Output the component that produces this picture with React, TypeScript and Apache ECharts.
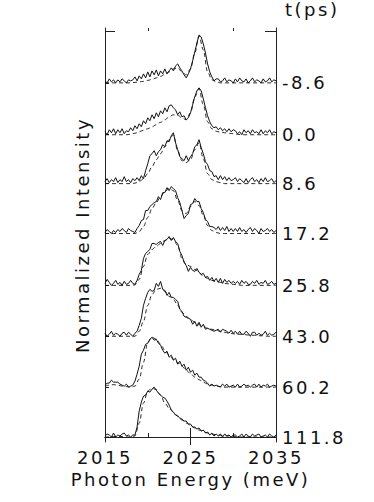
import React, { useEffect, useRef } from 'react';
import * as echarts from 'echarts';

// Photon energy sampling (meV)
const ENERGY_FINE = [
  2015, 2015.25, 2015.5, 2015.75, 2016, 2016.25, 2016.5, 2016.75,
  2017, 2017.25, 2017.5, 2017.75, 2018, 2018.25, 2018.5, 2018.75,
  2019, 2019.25, 2019.5, 2019.75, 2020, 2020.25, 2020.5, 2020.75,
  2021, 2021.25, 2021.5, 2021.75, 2022, 2022.25, 2022.5, 2022.75,
  2023, 2023.25, 2023.5, 2023.75, 2024, 2024.25, 2024.5, 2024.75,
  2025, 2025.25, 2025.5, 2025.75, 2026, 2026.25, 2026.5, 2026.75,
  2027, 2027.25, 2027.5, 2027.75, 2028, 2028.25, 2028.5, 2028.75,
  2029, 2029.25, 2029.5, 2029.75, 2030, 2030.25, 2030.5, 2030.75,
  2031, 2031.25, 2031.5, 2031.75, 2032, 2032.25, 2032.5, 2032.75,
  2033, 2033.25, 2033.5, 2033.75, 2034, 2034.25, 2034.5, 2034.75,
  2035,
];
const ENERGY_COARSE = [
  2015, 2015.5, 2016, 2016.5, 2017, 2017.5, 2018, 2018.5, 2019, 2019.5,
  2020, 2020.5, 2021, 2021.5, 2022, 2022.5, 2023, 2023.5, 2024, 2024.5,
  2025, 2025.5, 2026, 2026.5, 2027, 2027.5, 2028, 2028.5, 2029, 2029.5,
  2030, 2030.5, 2031, 2031.5, 2032, 2032.5, 2033, 2033.5, 2034, 2034.5,
  2035,
];

// Delay times (ps), top to bottom
const DELAYS = ['-8.6', '0.0', '8.6', '17.2', '25.8', '43.0', '60.2', '111.8'];
// Vertical offset of each spectrum (normalized intensity units)
const OFFSETS = [355, 303, 254, 204, 152, 101, 50, 0];
const X_LABELS = [2015, 2025, 2035];

// Measured spectra (solid)
const M_N86 = [
  2, 0, 4, 1, 3, 0, 3, 1, 4, 2, 0, 3, 2,
  3, 6, 2, 7, 4, 9, 5, 11, 6, 12, 8, 13, 7, 12, 9, 14, 9, 12, 15, 12, 17, 19, 15, 12, 8, 5, 9, 14, 22, 31, 40, 48, 46, 39, 30, 19, 11, 6, 2, 4,
  4, 1, 2, 5, 1, 3, 2, 0, 4, 1, 5, 2, 1, 4, 0, 2, 5, 1, 3, 2, 0, 4, 1, 2, 5, 1, 3, 2,
];
const M_00 = [
  3, 0, 5, 2, 6, 1, 5, 2, 6, 1, 4,
  3, 7, 4, 9, 6, 11, 8, 14, 11, 17, 14, 20, 16, 22, 18, 24, 21, 27, 23, 29, 30, 27, 25, 20, 23, 18, 19, 15, 17, 22, 30, 38, 44, 47, 44, 36, 27, 19, 13, 9, 7, 8, 5, 7, 4, 6, 3, 6, 3, 5,
  4, 1, 3, 0, 5, 2, 4, 1, 5, 2, 3, 1, 5, 1, 4, 2, 5, 1, 3, 2,
];
const M_86 = [
  2, 5, 1, 4, 2, 6, 1, 4, 2, 7, 2, 4, 1, 5,
  3, 6, 3, 8, 5, 13, 20, 28, 30, 33, 28, 32, 34, 39, 37, 43, 42, 48, 51, 41, 34, 27, 25, 23, 28, 23, 27, 30, 37, 39, 44, 36, 30, 22, 19, 13, 12, 7, 8, 4, 8, 4, 7, 3, 6, 3, 4,
  6, 2, 5, 3, 1, 5, 1, 4, 6, 2, 4, 1, 5, 2, 6, 2, 3, 5, 1, 3,
];
const M_172 = [
  1, 4, 2, 0, 3, 1, 4, 2, 5, 3, 1, 5, 3, 2,
  1, 5, 8, 13, 14, 23, 23, 27, 29, 31, 32, 37, 34, 41, 41, 46, 43, 47, 45, 43, 36, 31, 23, 15, 18, 20, 29, 30, 35, 32, 32, 25, 21, 14, 12, 7, 7, 6, 4, 7, 3, 6, 3, 7, 2, 5, 2,
  5, 2, 6, 2, 4, 1, 4, 6, 2, 5, 3, 0, 5, 2, 3, 5, 2, 4, 1, 3,
];
const M_258 = [
  2, 6, 3, 0, 2, 5, 1, 3, 0, 4, 1, 2, 5, 2, 1,
  5, 11, 15, 27, 32, 34, 36, 42, 42, 41, 43, 44, 40, 45, 46, 49, 45, 48, 44, 42, 34, 30, 23, 20, 14, 18, 15, 14, 17, 13, 11, 12, 8, 9, 5, 8, 4, 7, 3, 7, 2, 6, 3, 5, 2, 4,
  2, 4, 1, 5, 2, 4, 1, 1, 4, 2, 5, 1, 3, 2, 5, 1, 2, 4, 1, 2,
];
const M_430 = [
  3, 0, 2, 5, 1, 3, 2, 0, 3, 4, 1, 4, 2, 0, 3,
  5, 11, 18, 31, 38, 44, 47, 45, 46, 53, 50, 55, 47, 46, 41, 44, 39, 39, 37, 35, 27, 25, 20, 19, 18, 17, 12, 15, 10, 14, 9, 12, 7, 8, 7, 6, 5, 6, 7, 4, 7, 6, 5, 3, 6, 3,
  5, 2, 5, 2, 2, 5, 3, 0, 4, 4, 1, 3, 1, 2, 5, 1, 3, 1, 2, 4,
];
const M_602 = [
  2, 4, 4, 7, 5, 5, 5, 3, 2, 1, 3, 0, 1, 2,
  6, 13, 21, 33, 37, 43, 44, 48, 50, 47, 48, 44, 42, 37,
  34, 36, 30, 32, 27, 29, 23, 26, 21, 23, 17, 20, 15, 17, 12, 14, 10, 10, 7, 6,
  4, 1, 3, 1, 2,
  1, 0, 3, 1, 3, 0, 1, 2, 0, 3, 0, 1, 3, 1, 2, 0, 2, 3, 0, 3, 0, 2, 1, 3, 0, 1, 2, 1,
];
const M_1118 = [
  1, 3, 2, 0, 4, 0, 2, 1, 3, 4, 1, 2, 0, 2,
  2, 10, 26, 35, 41, 42, 46, 45, 48, 50, 47, 44, 42, 40,
  39, 36, 32, 27, 25, 22, 21, 19, 18, 16, 16, 13, 13, 10, 10, 8, 9, 6, 7, 4,
  5, 2, 4, 1, 3,
  1, 3, 0, 3, 1, 2, 0, 2, 2, 0, 1, 3, 0, 3, 1, 0, 3, 1, 2, 3, 0, 1, 2, 0, 3, 1, 0, 2,
];

// Calculated fits (dashed)
const F_N86 = [0, 0, 0, 0, 0, 0, 0, 0.5, 1, 1.5, 2.5, 3.5, 5, 6.5, 8.5, 11, 14, 15, 11, 8, 14, 30, 47, 33, 11, 3, 1, 0, 0, 0, 0, 0, 0, 0, 0, 0, 0, 0, 0, 0, 0];
const F_00 = [0, 0, 0, 0, 0, 0, 0.5, 1.5, 3, 4.5, 6, 8, 10, 12.5, 15, 18, 20, 19.5, 17, 15, 22, 38, 46, 30, 13, 6, 3.5, 2.5, 2, 1.5, 1, 0.5, 0, 0, 0, 0, 0, 0, 0, 0, 0];
const F_86 = [0, 0, 0, 0, 0, 0, 0, 0.5, 2, 5, 10, 17, 24, 30, 37, 44, 49, 33, 23, 21, 24, 34, 41, 25, 10, 4, 2, 1, 0, 0, 0, 0, 0, 0, 0, 0, 0, 0, 0, 0, 0];
const F_172 = [0, 0, 0, 0, 0, 0, 0, 0, 2, 7, 16, 25, 31, 37, 42, 45, 43, 33, 23, 20, 27, 32, 28, 18, 8, 3, 1, 0, 0, 0, 0, 0, 0, 0, 0, 0, 0, 0, 0, 0, 0];
const F_258 = [0, 0, 0, 0, 0, 0, 0, 0.5, 6, 19, 31, 36, 39, 42, 45, 47, 46, 40, 27, 21, 19, 16, 13, 9, 7, 5, 4, 3, 2, 1.5, 1, 0.5, 0, 0, 0, 0, 0, 0, 0, 0, 0];
const F_430 = [0, 0, 0, 0, 0, 0, 0, 0, 5, 15, 31, 42, 47, 48, 45, 40, 37, 31, 24, 20, 17, 14, 11.5, 10, 8, 7, 6, 5, 4, 3, 2.5, 2, 2, 1.5, 1, 1, 0.5, 0.5, 0, 0, 0];
const F_602 = [1, 2, 2.5, 2, 1, 0.5, 0, 1, 8, 25, 45, 50, 48, 43, 37, 32, 28, 24.5, 21, 17, 13.5, 10, 7.5, 5, 3, 2, 1, 0.5, 0, 0, 0, 0, 0, 0, 0, 0, 0, 0, 0, 0, 0];
const F_1118 = [0, 0, 0.5, 0.5, 0.5, 0, 0, 1, 14, 34, 46, 49, 47.5, 42, 34, 29, 25, 21, 17, 14, 11.5, 9, 7, 5.5, 4, 3, 2.2, 1.7, 1.2, 1, 0.7, 0, 0, 0, 0, 0, 0, 0, 0, 0, 0];

const MEASURED = [M_N86, M_00, M_86, M_172, M_258, M_430, M_602, M_1118];
const FITS = [F_N86, F_00, F_86, F_172, F_258, F_430, F_602, F_1118];

const FONT = 'DejaVu Sans';
const INK = '#111';

export default function App() {
  const ref = useRef<HTMLDivElement>(null);

  useEffect(() => {
    const el = ref.current;
    if (!el) return;
    const chart = echarts.init(el, null, { renderer: 'svg' });

    const series: any[] = [];
    MEASURED.forEach((vals, k) => {
      series.push({
        type: 'line',
        xAxisIndex: 0,
        yAxisIndex: 0,
        data: ENERGY_FINE.map((e, i) => [e, OFFSETS[k] + vals[i]]),
        showSymbol: false,
        silent: true,
        lineStyle: { color: INK, width: 1 },
      });
      series.push({
        type: 'line',
        xAxisIndex: 0,
        yAxisIndex: 0,
        data: ENERGY_COARSE.map((e, i) => [e, OFFSETS[k] + FITS[k][i]]),
        showSymbol: false,
        silent: true,
        smooth: 0.35,
        smoothMonotone: 'x',
        lineStyle: { color: INK, width: 0.9, type: [4, 3] },
      });
    });

    const line = { show: true, lineStyle: { color: '#222', width: 1 } };
    const tickStyle = { color: '#222', width: 1 };
    const xMin = 2015;
    const xMax = 2035;
    const yMin = -5;
    const yMax = 410;

    chart.setOption({
      animation: false,
      grid: { left: 105, right: 98, top: 27, bottom: 60 },
      xAxis: [
        {
          type: 'value', position: 'bottom', min: xMin, max: xMax, interval: 5,
          axisLine: line,
          axisTick: { show: true, inside: true, length: 9, customValues: [2025], lineStyle: tickStyle },
          axisLabel: {
            customValues: X_LABELS, showMinLabel: true, showMaxLabel: true,
            formatter: (v: number) => String(v),
            fontFamily: FONT, fontSize: 18, color: INK, margin: 6,
          },
          splitLine: { show: false },
          name: 'Photon Energy (meV)', nameLocation: 'middle', nameGap: 26,
          nameTextStyle: { fontFamily: FONT, fontSize: 18, color: INK },
        },
        {
          type: 'value', position: 'bottom', min: xMin, max: xMax, interval: 5,
          axisLine: { show: false },
          axisTick: { show: true, inside: true, length: 4, customValues: [2020, 2030], lineStyle: tickStyle },
          axisLabel: { show: false }, splitLine: { show: false },
        },
        {
          type: 'value', position: 'top', min: xMin, max: xMax, interval: 5,
          axisLine: line,
          axisTick: { show: true, inside: true, length: 8, customValues: [2025], lineStyle: tickStyle },
          axisLabel: { show: false }, splitLine: { show: false },
        },
        {
          type: 'value', position: 'top', min: xMin, max: xMax, interval: 5,
          axisLine: { show: false },
          axisTick: { show: true, inside: true, length: 3, customValues: [2020, 2030], lineStyle: tickStyle },
          axisLabel: { show: false }, splitLine: { show: false },
        },
      ],
      yAxis: [
        {
          type: 'value', position: 'left', min: yMin, max: yMax,
          axisLine: line,
          axisTick: { show: true, inside: true, length: 4, customValues: OFFSETS, lineStyle: tickStyle },
          axisLabel: { show: false }, splitLine: { show: false },
          name: 'Normalized Intensity', nameLocation: 'middle', nameGap: 14, nameRotate: 90,
          nameTextStyle: { fontFamily: FONT, fontSize: 18, color: INK },
        },
        {
          type: 'value', position: 'left', min: yMin, max: yMax,
          axisLine: { show: false },
          axisTick: { show: true, inside: true, length: 10, customValues: [407], lineStyle: tickStyle },
          axisLabel: { show: false }, splitLine: { show: false },
        },
        {
          type: 'value', position: 'right', min: yMin, max: yMax,
          axisLine: line,
          axisTick: { show: true, inside: true, length: 11, customValues: [407], lineStyle: tickStyle },
          axisLabel: {
            customValues: OFFSETS, showMinLabel: true, showMaxLabel: true,
            formatter: (v: number) => {
              const idx = OFFSETS.indexOf(Math.round(v));
              return idx >= 0 ? DELAYS[idx] : '';
            },
            fontFamily: FONT, fontSize: 18, color: INK, margin: 6,
          },
          splitLine: { show: false },
          name: 't(ps)', nameLocation: 'end', nameGap: 10,
          nameTextStyle: {
            fontFamily: FONT, fontSize: 18, color: INK,
            align: 'left', verticalAlign: 'bottom', padding: [0, 0, 0, 9],
          },
        },
      ],
      series,
    });

    const widen = () => {
      el.querySelectorAll('text').forEach((t) => t.setAttribute('letter-spacing', '2.5'));
    };
    widen();
    chart.on('finished', widen);
    const timer = setTimeout(widen, 50);

    return () => {
      clearTimeout(timer);
      chart.dispose();
    };
  }, []);

  return (
    <div
      ref={ref}
      style={{ position: 'fixed', left: 0, top: 0, width: 374, height: 502, background: '#fff' }}
    />
  );
}
